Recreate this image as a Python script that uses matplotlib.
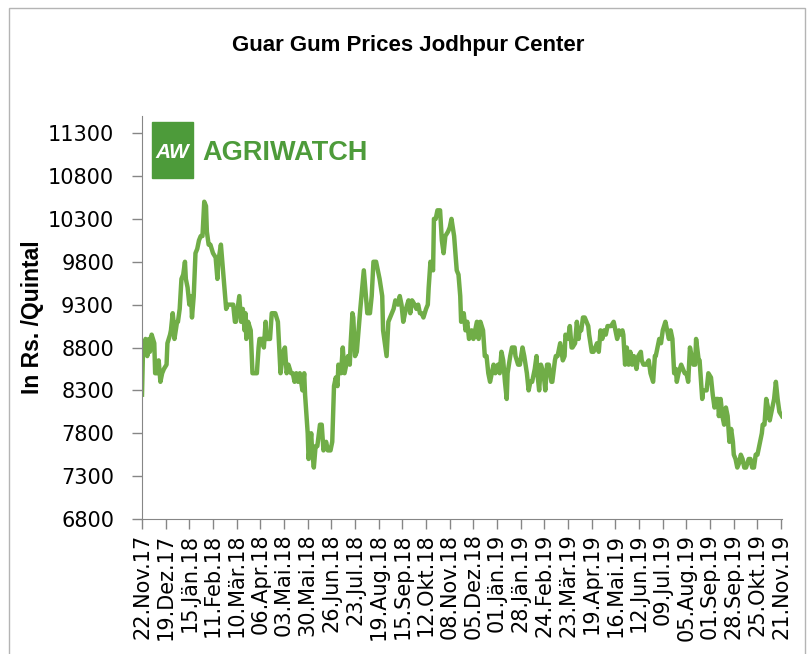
#importing libraries
import matplotlib.pyplot as plt
from matplotlib.patches import Rectangle
import numpy as np


#DATA - days after 22.Nov.17 and price in Rs./Quintal
days = [0, 1, 4, 6, 8, 9, 11, 14, 15, 17, 19, 21, 23, 25, 28, 29, 32, 33, 35, 36,
        37, 40, 41, 43, 45, 47, 49, 50, 52, 54, 56, 57, 59, 61, 63, 65, 67, 69, 71, 73,
        74, 76, 78, 81, 84, 86, 87, 90, 92, 94, 96, 98, 101, 104, 106, 107, 109, 111, 113, 115,
        117, 118, 119, 121, 124, 126, 128, 131, 133, 134, 137, 139, 141, 142, 146, 148, 152, 155, 156, 158,
        161, 163, 165, 167, 170, 172, 174, 176, 178, 180, 183, 185, 186, 189, 190, 193, 194, 196, 198, 200,
        203, 205, 207, 210, 212, 215, 217, 219, 221, 223, 224, 227, 229, 231, 235, 237, 238, 240, 241, 243,
        245, 247, 249, 253, 255, 257, 260, 262, 264, 267, 269, 271, 274, 275, 277, 279, 281, 283, 287, 289,
        292, 294, 296, 298, 301, 304, 306, 308, 311, 313, 315, 317, 319, 321, 324, 326, 327, 329, 332, 333,
        335, 337, 340, 342, 344, 346, 349, 351, 353, 356, 359, 361, 363, 364, 367, 369, 371, 373, 376, 378,
        380, 382, 384, 386, 389, 391, 393, 395, 397, 399, 401, 403, 406, 408, 410, 412, 414, 416, 417, 420,
        422, 425, 426, 429, 431, 434, 436, 439, 441, 443, 445, 448, 450, 451, 453, 455, 458, 460, 462, 464,
        467, 468, 471, 472, 474, 477, 480, 482, 483, 486, 488, 490, 491, 494, 496, 498, 499, 501, 503, 505,
        507, 509, 510, 513, 515, 517, 519, 521, 523, 525, 527, 529, 531, 533, 535, 538, 540, 542, 544, 546,
        548, 549, 551, 553, 555, 557, 559, 561, 564, 566, 569, 570, 572, 575, 578, 580, 583, 585, 586, 589,
        590, 592, 594, 597, 599, 601, 603, 605, 607, 609, 610, 612, 615, 617, 619, 621, 623, 625, 627, 629,
        631, 632, 635, 636, 639, 640, 643, 644, 646, 649, 651, 653, 655, 657, 658, 660, 662, 664, 666, 668,
        670, 672, 674, 675, 677, 679, 681, 683, 685, 687, 689, 692, 694, 696, 698, 700, 702, 704, 707, 708,
        710, 712, 714, 716, 719, 721, 723, 725, 727, 730]
prices = [8250, 8700, 8900, 8700, 8900, 8750, 8950, 8850, 8500, 8500, 8650, 8400, 8500, 8550, 8600, 8850, 8950, 9000, 9200, 9100,
          8900, 9100, 9100, 9250, 9600, 9650, 9800, 9600, 9500, 9300, 9400, 9150, 9400, 9900, 9950, 10050, 10100, 10100, 10500, 10450,
          10150, 10000, 10000, 9900, 9850, 9600, 9800, 10000, 9750, 9500, 9250, 9300, 9300, 9300, 9100, 9100, 9250, 9400, 9100, 9250,
          9000, 9200, 8900, 9100, 9000, 8500, 8500, 8500, 8800, 8900, 8900, 8800, 9100, 8900, 8900, 9200, 9200, 9100, 8900, 8500,
          8750, 8800, 8500, 8600, 8500, 8500, 8400, 8500, 8400, 8500, 8300, 8500, 8250, 7800, 7500, 7800, 7600, 7400, 7650, 7650,
          7900, 7900, 7600, 7700, 7600, 7600, 7700, 8350, 8450, 8350, 8600, 8500, 8800, 8500, 8700, 8600, 8850, 9200, 9150, 8700,
          8750, 9000, 9250, 9700, 9450, 9200, 9200, 9400, 9800, 9800, 9700, 9600, 9400, 9000, 8850, 8700, 9100, 9150, 9250, 9350,
          9300, 9400, 9300, 9100, 9250, 9350, 9200, 9350, 9300, 9250, 9300, 9200, 9200, 9150, 9250, 9300, 9500, 9800, 9700, 10300,
          10300, 10400, 10400, 10050, 9900, 10100, 10150, 10200, 10300, 10100, 9700, 9650, 9400, 9100, 9200, 9000, 9100, 8900, 9000, 8900,
          9000, 9100, 8900, 9100, 9000, 8700, 8700, 8500, 8400, 8500, 8600, 8500, 8600, 8500, 8750, 8650, 8400, 8200, 8500, 8700,
          8800, 8800, 8700, 8600, 8600, 8800, 8700, 8500, 8300, 8400, 8400, 8550, 8700, 8500, 8300, 8600, 8500, 8300, 8600, 8600,
          8400, 8400, 8650, 8700, 8700, 8850, 8650, 8700, 8950, 8900, 9050, 8800, 8800, 8850, 9100, 8900, 9000, 9000, 9150, 9150,
          9100, 9050, 8950, 8750, 8750, 8800, 8850, 8750, 9000, 8900, 9000, 8950, 9050, 9050, 9050, 9100, 9000, 8900, 9000, 8950,
          9000, 8950, 8600, 8800, 8600, 8750, 8600, 8700, 8550, 8700, 8750, 8650, 8600, 8600, 8650, 8500, 8400, 8700, 8700, 8850,
          8900, 8850, 9000, 9100, 9000, 8900, 9000, 8900, 8500, 8550, 8400, 8500, 8600, 8550, 8500, 8500, 8400, 8800, 8700, 8600,
          8600, 8900, 8650, 8650, 8200, 8300, 8300, 8300, 8500, 8450, 8250, 8100, 8200, 8200, 8000, 8200, 8000, 7900, 8100, 8000,
          7700, 7850, 7700, 7550, 7500, 7400, 7450, 7550, 7500, 7400, 7400, 7500, 7500, 7400, 7400, 7550, 7550, 7650, 7800, 7900,
          7900, 8200, 8100, 7950, 8100, 8200, 8400, 8200, 8050, 8000]

tick_days = list(range(0, 730, 27))
tick_labels = ['22.Nov.17', '19.Dez.17', '15.Jän.18', '11.Feb.18', '10.Mär.18', '06.Apr.18', '03.Mai.18',
               '30.Mai.18', '26.Jun.18', '23.Jul.18', '19.Aug.18', '15.Sep.18', '12.Okt.18', '08.Nov.18',
               '05.Dez.18', '01.Jän.19', '28.Jän.19', '24.Feb.19', '23.Mär.19', '19.Apr.19', '16.Mai.19',
               '12.Jun.19', '09.Jul.19', '05.Aug.19', '01.Sep.19', '28.Sep.19', '25.Okt.19', '21.Nov.19']
y_ticks = list(range(6800, 11301, 500))


#PLOT

def plot_prices(days, prices):  #draws the price line with frame, title and logo

    fig = plt.figure(figsize=(8.09, 6.54), dpi=100)
    fig.add_artist(Rectangle((9/809, -0.1), 796/809, 646/654 + 0.1, transform=fig.transFigure,
                             fill=False, edgecolor='#b4b4b4', linewidth=1))

    ax = plt.axes([142/809, 135/654, 640/809, 403/654])
    plt.plot(days, prices, color='#70ad47', linewidth=3.2, solid_joinstyle='round')
    plt.xlim(0, 730)
    plt.ylim(6800, 11500)
    plt.xticks(tick_days, tick_labels, rotation=90, fontsize=15)
    plt.yticks(y_ticks, fontsize=15)
    plt.tick_params(direction='out', length=7, color='#868686', width=1)
    plt.tick_params(axis='y', pad=13)
    for side in ['top', 'right']:
        ax.spines[side].set_visible(False)
    for side in ['left', 'bottom']:
        ax.spines[side].set_color('#868686')

    plt.ylabel('In Rs. /Quintal', fontsize=16.5, fontweight='bold', family='Liberation Sans', labelpad=3)

    plt.figtext(408/809, 1 - 45/654, 'Guar Gum Prices Jodhpur Center', ha='center', va='center',
                fontsize=16, fontweight='bold', family=['Liberation Sans Narrow', 'Liberation Sans'])

    ##logo
    fig.add_artist(Rectangle((152/809, 1 - 178/654), 41/809, 56/654, transform=fig.transFigure,
                             color='#4d9b3a'))
    plt.figtext(172/809, 1 - 153/654, 'AW', ha='center', va='center', color='white',
                fontsize=15, fontweight='bold', style='italic', family='Liberation Sans')
    plt.figtext(202/809, 1 - 153/654, 'AGRIWATCH', ha='left', va='center', color='#4d9b3a',
                fontsize=19.5, fontweight='bold', family='Liberation Sans')

    plt.savefig('out.png', dpi=100)


plot_prices(days, prices)
